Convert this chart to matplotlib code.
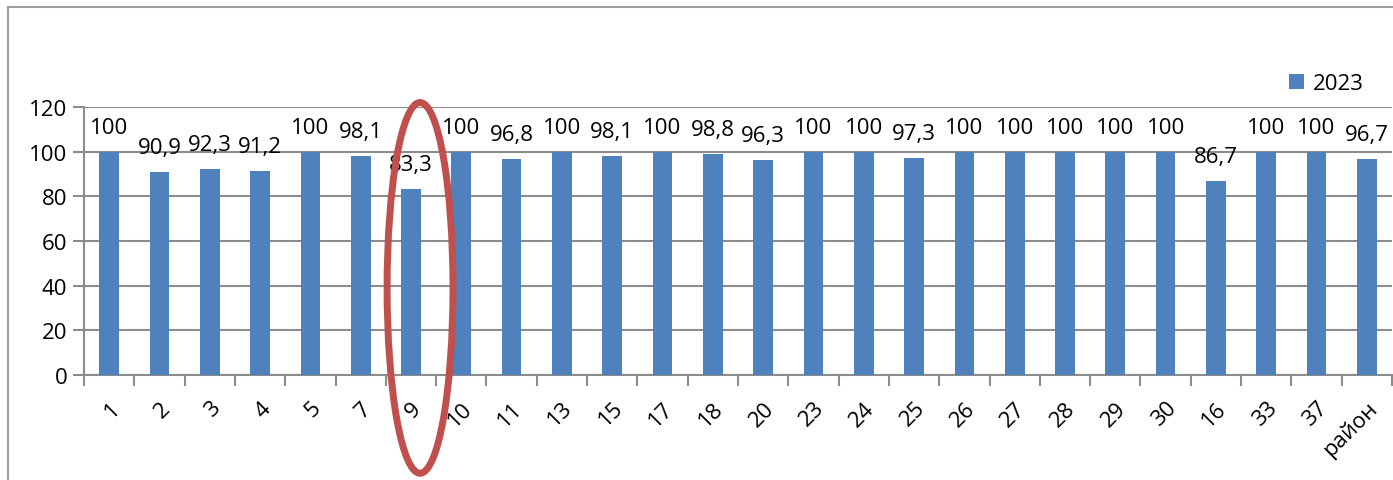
import matplotlib.pyplot as plt
from matplotlib.patches import Ellipse
from matplotlib.lines import Line2D

# school numbers and share (%) for 2023
categories = ['1', '2', '3', '4', '5', '7', '9', '10', '11', '13', '15', '17', '18',
              '20', '23', '24', '25', '26', '27', '28', '29', '30', '16', '33', '37', 'район']
values = [100, 90.9, 92.3, 91.2, 100, 98.1, 83.3, 100, 96.8, 100, 98.1, 100, 98.8,
          96.3, 100, 100, 97.3, 100, 100, 100, 100, 100, 86.7, 100, 100, 96.7]
series_name = '2023'
y_ticks = [0, 20, 40, 60, 80, 100, 120]

plt.rcParams['font.family'] = ['Open Sans', 'DejaVu Sans']
bar_color = '#4F81BD'
grid_color = '#8C8C8C'
fs = 16

fig = plt.figure(figsize=(13.93, 4.81), dpi=100)
ax = fig.add_axes([84 / 1393, 105 / 481, (1392 - 84) / 1393, (376 - 108) / 481])

x = range(len(categories))
bars = ax.bar(x, values, width=0.39, color=bar_color, label=series_name, zorder=3)

# data labels with comma as decimal separator
for xi, v in zip(x, values):
    txt = f'{v:g}'.replace('.', ',')
    ax.annotate(txt, (xi, v), xytext=(0, 10), textcoords='offset points',
                ha='center', va='bottom', fontsize=fs, color='black', zorder=4)

ax.set_xlim(-0.5, len(categories) - 0.5)
ax.set_ylim(0, 120)
ax.set_yticks(y_ticks)
ax.yaxis.grid(True, color=grid_color, linewidth=1.5, zorder=0)
ax.tick_params(axis='y', labelsize=fs, length=8, width=1.5, color=grid_color, pad=4)

# category ticks sit between bars, labels under bars
ax.set_xticks([i - 0.5 for i in range(len(categories) + 1)])
ax.set_xticklabels([])
ax.tick_params(axis='x', length=8, width=1.5, color=grid_color)
ax.set_xticks(list(x), minor=True)
ax.set_xticklabels(categories, minor=True, rotation=45, ha='right',
                   rotation_mode='anchor', fontsize=fs)
ax.tick_params(axis='x', which='minor', length=0, pad=16)

for side in ['top', 'right']:
    ax.spines[side].set_visible(False)
for side in ['left', 'bottom']:
    ax.spines[side].set_color(grid_color)
    ax.spines[side].set_linewidth(1.5)

# red highlight around school 9
ell = Ellipse((6.18, 39), width=1.31, height=166, fill=False,
              edgecolor='#C0504D', linewidth=5, clip_on=False, zorder=5)
ax.add_patch(ell)

leg = ax.legend(loc='upper right', bbox_to_anchor=(0.994, 1.2), frameon=False,
                fontsize=fs, handlelength=0.7, handleheight=0.7, handletextpad=0.4)

# outer chart frame
fig.add_artist(Line2D([8 / 1393, 8 / 1393], [0, 1 - 8 / 481], color='#A0A0A0', lw=1.5))
fig.add_artist(Line2D([8 / 1393, 1], [1 - 8 / 481, 1 - 8 / 481], color='#A0A0A0', lw=1.5))

fig.savefig('out.png', dpi=100, facecolor='white')
